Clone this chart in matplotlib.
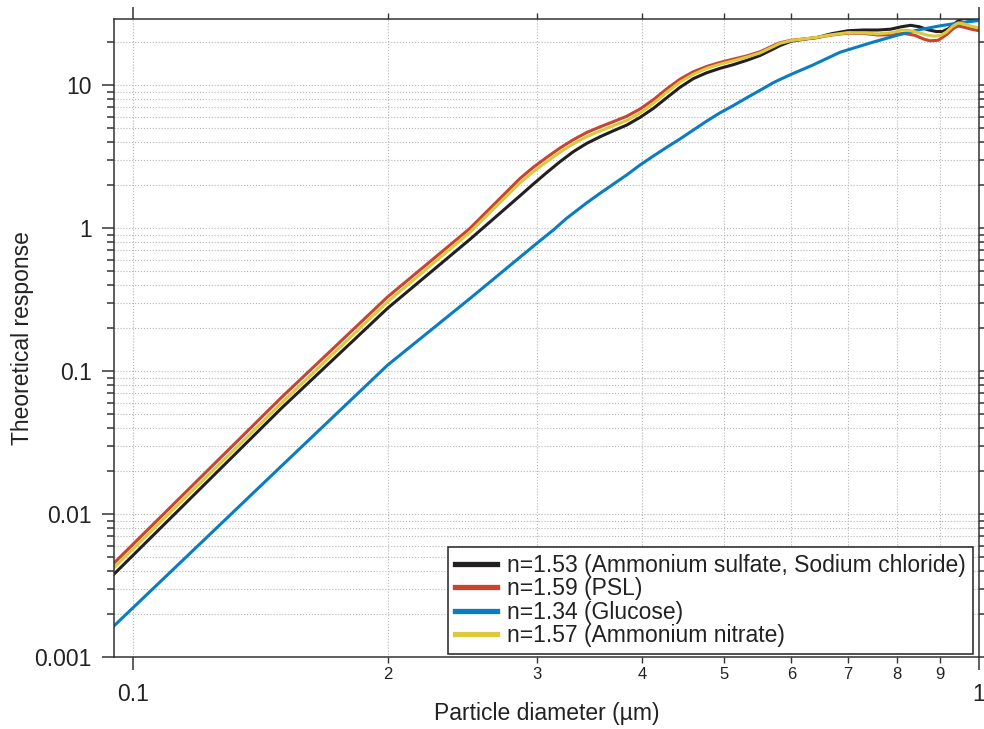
import matplotlib.pyplot as plt
from matplotlib.ticker import FixedLocator, FixedFormatter, LogLocator, NullFormatter

plt.rcParams['font.family'] = ['Liberation Sans', 'DejaVu Sans']

# values (diameter in um, theoretical response)
d_153 = [0.095, 0.15, 0.2, 0.25, 0.2867, 0.2973, 0.3083, 0.3197, 0.3315, 0.3438,
         0.3565, 0.3697, 0.3833, 0.3975, 0.4122, 0.4274, 0.4432, 0.4596, 0.4766,
         0.4942, 0.5125, 0.5314, 0.5511, 0.5714, 0.5819, 0.6, 0.62, 0.643, 0.67,
         0.7, 0.73, 0.76, 0.786, 0.81, 0.83, 0.85, 0.87, 0.89, 0.905, 0.92, 0.935,
         0.95, 0.962, 0.98, 1.0]
r_153 = [0.0038, 0.0553, 0.275, 0.83, 1.68, 2.03, 2.44, 2.91, 3.42, 3.91,
         4.35, 4.79, 5.25, 5.94, 6.87, 8.15, 9.65, 11.1, 12.2,
         13.1, 13.9, 14.9, 16.1, 17.9, 18.9, 20.3, 20.9, 21.5, 22.9,
         24.0, 24.3, 24.3, 24.6, 25.6, 26.2, 25.6, 24.4, 23.7, 23.7, 24.8, 26.8,
         28.8, 29.3, 28.6, 28.2]

d_159 = [0.095, 0.15, 0.2, 0.25, 0.2867, 0.2973, 0.3083, 0.3197, 0.3315, 0.3438,
         0.3565, 0.3697, 0.3833, 0.3975, 0.4122, 0.4274, 0.4432, 0.4596, 0.4766,
         0.4942, 0.5125, 0.5314, 0.5511, 0.5714, 0.5819, 0.6, 0.62, 0.643, 0.67,
         0.7, 0.73, 0.76, 0.79, 0.815, 0.84, 0.86, 0.875, 0.895, 0.915, 0.935,
         0.945, 0.96, 0.98, 1.0]
r_159 = [0.00454, 0.0658, 0.33, 0.99, 2.22, 2.66, 3.12, 3.63, 4.15, 4.66,
         5.10, 5.55, 6.05, 6.8, 7.9, 9.4, 11.0, 12.4, 13.5,
         14.4, 15.2, 16.0, 17.1, 18.9, 19.8, 20.6, 21.0, 21.5, 22.4,
         23.1, 23.0, 22.4, 22.5, 23.0, 22.3, 21.0, 20.4, 20.6, 22.5, 25.2,
         25.9, 25.4, 24.6, 24.0]

d_134 = [0.095, 0.15, 0.2, 0.25, 0.3, 0.3139, 0.3255, 0.3438, 0.3565, 0.3697,
         0.3833, 0.3975, 0.4122, 0.4274, 0.4432, 0.4596, 0.4766, 0.4942, 0.5125,
         0.5314, 0.5511, 0.5714, 0.5819, 0.6, 0.636, 0.6855, 0.75, 0.8, 0.85,
         0.9, 0.95, 1.0]
r_134 = [0.00165, 0.0218, 0.11, 0.32, 0.78, 0.968, 1.17, 1.50, 1.75, 2.03,
         2.35, 2.76, 3.19, 3.67, 4.2, 4.85, 5.6, 6.4, 7.2,
         8.15, 9.2, 10.4, 10.95, 11.9, 13.8, 17.0, 20.0, 22.3, 24.4,
         26.0, 27.3, 28.3]

d_157 = [0.095, 0.15, 0.2, 0.25, 0.2867, 0.2973, 0.3083, 0.3197, 0.3315, 0.3438,
         0.3565, 0.3697, 0.3833, 0.3975, 0.4122, 0.4274, 0.4432, 0.4596, 0.4766,
         0.4942, 0.5125, 0.5314, 0.5511, 0.5714, 0.5819, 0.6, 0.62, 0.643, 0.67,
         0.7, 0.73, 0.76, 0.79, 0.81, 0.83, 0.85, 0.87, 0.885, 0.9, 0.915, 0.93,
         0.945, 0.96, 0.98, 1.0]
r_157 = [0.00421, 0.060, 0.305, 0.93, 2.07, 2.48, 2.91, 3.39, 3.88, 4.36,
         4.78, 5.20, 5.65, 6.38, 7.45, 8.9, 10.5, 11.9, 13.1,
         14.0, 14.8, 15.7, 16.8, 18.6, 19.6, 20.5, 21.0, 21.6, 22.5,
         23.3, 23.2, 22.8, 23.3, 24.3, 24.0, 23.2, 22.3, 22.0, 22.2, 23.5, 25.7,
         27.2, 26.8, 25.8, 25.2]

labels = ["n=1.53 (Ammonium sulfate, Sodium chloride)", "n=1.59 (PSL)",
          "n=1.34 (Glucose)", "n=1.57 (Ammonium nitrate)"]
colors = ["#231f20", "#c8452d", "#0a7cc2", "#dbc93d"]

x_major = [0.1, 1.0]
x_major_lab = ["0.1", "1"]
x_minor = [0.2, 0.3, 0.4, 0.5, 0.6, 0.7, 0.8, 0.9]
x_minor_lab = ["2", "3", "4", "5", "6", "7", "8", "9"]
y_major = [0.001, 0.01, 0.1, 1, 10]
y_major_lab = ["0.001", "0.01", "0.1", "1", "10"]

fs = 16.5
fig = plt.figure(figsize=(9.84, 7.29), dpi=100)
ax = fig.add_axes([114 / 984, 72 / 729, 865 / 984, 638 / 729])

series = [(d_153, r_153), (d_159, r_159), (d_134, r_134), (d_157, r_157)]
for (xs, ys), c, lab in zip(series, colors, labels):
    ax.plot(xs, ys, color=c, lw=2.2, label=lab, solid_joinstyle='round')

ax.set_xscale('log')
ax.set_yscale('log')
ax.set_xlim(0.095, 1.0)
ax.set_ylim(0.001, 29)

ax.xaxis.set_major_locator(FixedLocator(x_major))
ax.xaxis.set_major_formatter(FixedFormatter(x_major_lab))
ax.xaxis.set_minor_locator(FixedLocator(x_minor))
ax.xaxis.set_minor_formatter(FixedFormatter(x_minor_lab))
ax.yaxis.set_major_locator(FixedLocator(y_major))
ax.yaxis.set_major_formatter(FixedFormatter(y_major_lab))
ax.yaxis.set_minor_locator(LogLocator(base=10, subs=range(2, 10), numticks=20))
ax.yaxis.set_minor_formatter(NullFormatter())

ax.tick_params(which='both', direction='out', top=True, right=True,
               color='#333333', labelcolor='#222222')
ax.tick_params(axis='both', which='major', length=9, width=1.1, labelsize=fs, pad=7)
ax.tick_params(axis='x', which='major', pad=10)
ax.tick_params(axis='y', which='minor', length=5, width=1.1)
ax.tick_params(axis='x', which='minor', length=4, width=1.0, labelsize=12, pad=3)

for s in ax.spines.values():
    s.set_color('#333333')
    s.set_linewidth(1.1)

ax.grid(True, which='both', linestyle=':', color='#b5b5b5', linewidth=0.8)
ax.set_axisbelow(True)

ax.set_xlabel("Particle diameter (µm)", fontsize=fs, color='#222222')
ax.xaxis.set_label_coords(0.5, -0.07)
ax.set_ylabel("Theoretical response", fontsize=fs, color='#222222', labelpad=0)

leg = ax.legend(loc='lower right', bbox_to_anchor=(0.9931, 0.0047), borderaxespad=0,
                fontsize=fs, frameon=True, fancybox=False, edgecolor='#222222',
                framealpha=1, handlelength=1.85, handletextpad=0.45,
                borderpad=0.3, labelspacing=0.02)
leg.get_frame().set_linewidth(1.1)
for h in leg.get_lines():
    h.set_linewidth(3.8)
for t in leg.get_texts():
    t.set_color('#222222')

fig.savefig("out.png", dpi=100)
